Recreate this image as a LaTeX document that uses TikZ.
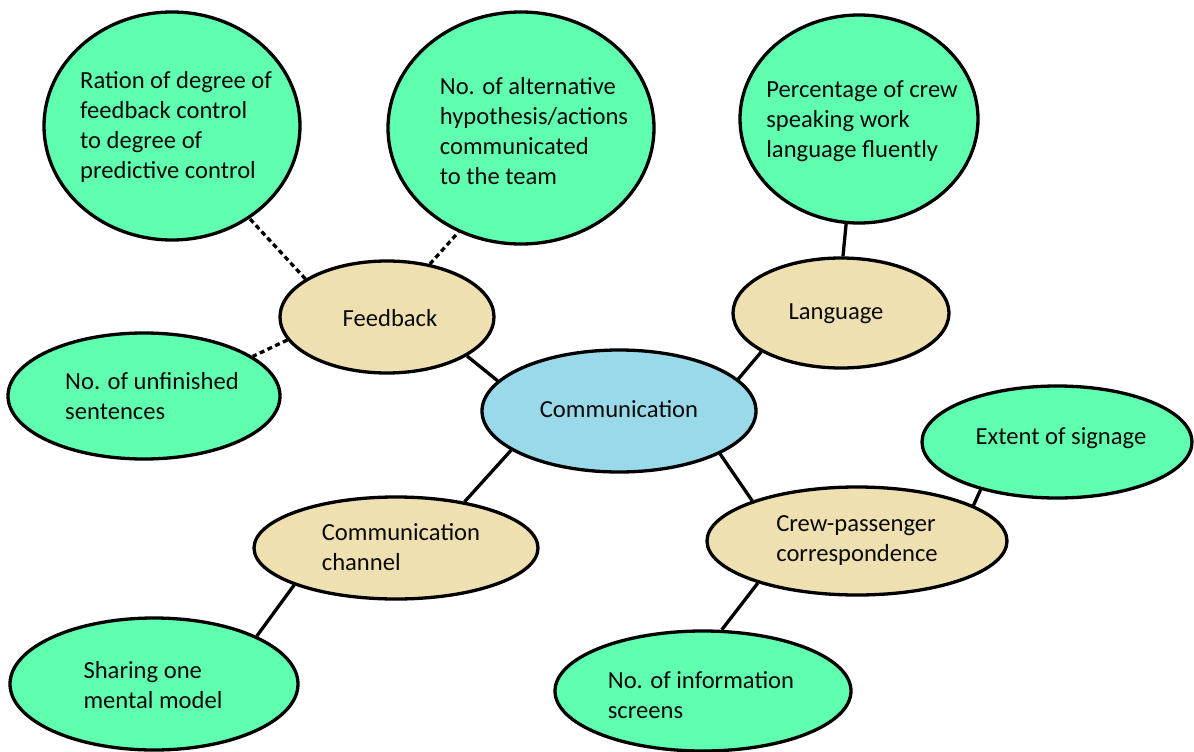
\documentclass[tikz,border=0pt]{standalone}
\usepackage{fontspec}
\setmainfont{Carlito}
\usetikzlibrary{shapes.geometric}
\definecolor{leafgreen}{RGB}{96,255,175}
\definecolor{midtan}{RGB}{238,224,176}
\definecolor{hubblue}{RGB}{153,217,234}
\definecolor{ink}{RGB}{10,10,10}
\tikzset{
  bub/.style={ellipse, draw=black, line width=3.3pt, inner sep=0pt},
  leaf/.style={bub, fill=leafgreen},
  mid/.style={bub, fill=midtan},
  hub/.style={bub, fill=hubblue},
  txt/.style={align=left, text=ink, inner sep=0pt, font=\fontsize{24.6}{30}\selectfont},
  link/.style={line width=3.3pt},
  dlink/.style={line width=3.3pt, dash pattern=on 5pt off 3.5pt},
}
\begin{document}
\begin{tikzpicture}[x=1pt,y=-1pt]
\useasboundingbox[fill=white] (0,0) rectangle (1194,752);
% ellipses
\node[leaf, minimum width=256pt, minimum height=228pt] (ration) at (172,126) {};
\node[leaf, minimum width=266pt, minimum height=232pt] (alt) at (521,128) {};
\node[leaf, minimum width=238pt, minimum height=208pt] (perc) at (859,119) {};
\node[mid, minimum width=214pt, minimum height=112pt] (fb) at (387,317) {};
\node[mid, minimum width=216pt, minimum height=110pt] (lang) at (841,313) {};
\node[leaf, minimum width=272pt, minimum height=126pt] (unf) at (144,396) {};
\node[hub, minimum width=274pt, minimum height=122pt] (comm) at (619,411) {};
\node[leaf, minimum width=270pt, minimum height=112pt] (ext) at (1057,442) {};
\node[mid, minimum width=284pt, minimum height=102pt] (chan) at (396,548) {};
\node[mid, minimum width=300pt, minimum height=108pt] (crew) at (857,541) {};
\node[leaf, minimum width=288pt, minimum height=132pt] (share) at (154,684) {};
\node[leaf, minimum width=296pt, minimum height=120pt] (info) at (703,691) {};
% texts
\node[txt] (tration) at (176,127) {Ration of degree of\\feedback control\\to degree of\\predictive control};
\node[txt] (talt) at (534,131) {No. of alternative\\hypothesis/actions\\communicated\\to the team};
\node[txt] (tperc) at (862,121) {Percentage of crew\\speaking work\\language fluently};
\node[txt] (tfb) at (390,318) {Feedback};
\node[txt] (tlang) at (836,314) {Language};
\node[txt] (tunf) at (152,396) {No. of unfinished\\sentences};
\node[txt] (tcomm) at (619,409) {Communication};
\node[txt] (text) at (1061,438) {Extent of signage};
\node[txt] (tchan) at (401,547) {Communication\\channel};
\node[txt] (tcrew) at (857,540) {Crew-passenger\\correspondence};
\node[txt] (tshare) at (153,685) {Sharing one\\mental model};
\node[txt] (tinfo) at (701,695) {No. of information\\screens};
% connectors
\draw[link] (fb.-26) -- (comm.166);
\draw[dlink] (fb.155.7) -- (ration.-50.4);
\draw[dlink] (fb.51.7) -- (alt.-121.9);
\draw[dlink] (fb.193) -- (unf.20.9);
\draw[link] (comm.15.9) -- (lang.206);
\draw[link] (lang.88) -- (perc.-97);
\draw[link] (comm.200.9) -- (chan.34.7);
\draw[link] (chan.200.6) -- (share.25.2);
\draw[link] (comm.-23.5) -- (crew.159.1);
\draw[link] (crew.17.4) -- (ext.212.6);
\draw[link] (crew.203.7) -- (info.73);
\end{tikzpicture}
\end{document}
